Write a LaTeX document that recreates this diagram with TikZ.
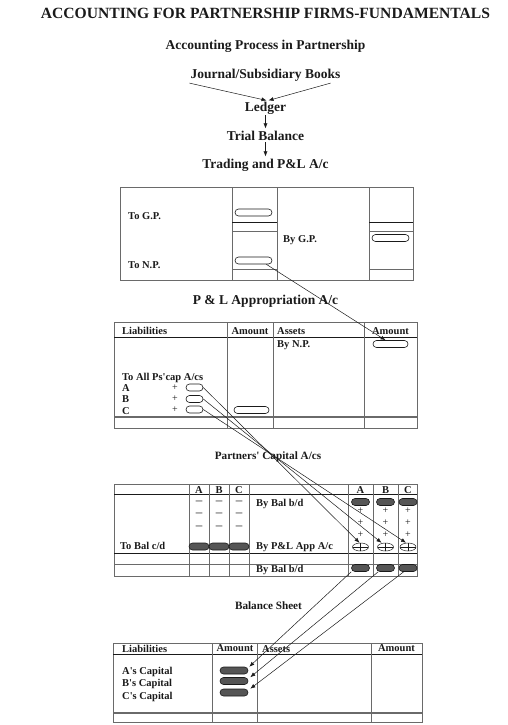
\documentclass[tikz,border=0pt]{standalone}
\usepackage{fontspec}
\setmainfont{Liberation Serif}
\usepackage{tikz}
\usetikzlibrary{arrows.meta,positioning,shapes,calc}
\definecolor{ink}{HTML}{1A1A1A}
\definecolor{rulegray}{HTML}{6A6A6A}
\definecolor{pilldark}{HTML}{555555}
\tikzset{
  headtext/.style={font=\fontsize{13.5}{15}\selectfont\bfseries,anchor=base,
                   inner sep=0pt,text=ink},
  subhead/.style={font=\fontsize{11.2}{13}\selectfont\bfseries,anchor=base,
                  inner sep=0pt,text=ink},
  celltext/.style={font=\fontsize{10.5}{12}\selectfont\bfseries,anchor=base west,
                   inner sep=0pt,text=ink},
  colhead/.style={font=\fontsize{10.5}{12}\selectfont\bfseries,anchor=base,
                  inner sep=0pt,text=ink},
  signmark/.style={font=\fontsize{10}{12}\selectfont,inner sep=0pt,text=ink},
  rule/.style={draw=rulegray,line width=1pt},
  thinrule/.style={draw=ink,line width=0.5pt},
  pill/.style={draw=ink,fill=white,line width=0.6pt,rounded corners=3.5pt,
               minimum height=7pt,inner sep=0pt},
  darkpill/.style={pill,fill=pilldark},
  oplus/.style={draw=ink,ellipse,minimum width=16pt,minimum height=8pt,
                inner sep=0pt,line width=0.5pt,
                path picture={\draw[ink,line width=0.5pt]
                  (path picture bounding box.north) -- (path picture bounding box.south)
                  (path picture bounding box.west) -- (path picture bounding box.east);}},
  flowarr/.style={-{Latex[length=5pt,width=4pt]},line width=0.5pt,draw=ink}
}

\begin{document}
\begin{tikzpicture}[x=1pt,y=-1pt]
  \path[use as bounding box] (0,0) rectangle (507,725);

  \node[font=\fontsize{15.6}{17}\selectfont\bfseries,anchor=base,inner sep=0pt,text=ink]
    (title) at (265.5,19) {ACCOUNTING FOR PARTNERSHIP FIRMS-FUNDAMENTALS};
  \node[headtext] (process) at (265.5,49) {Accounting Process in Partnership};
  \node[headtext,inner sep=2pt] (journal) at (265.5,78) {Journal/Subsidiary Books};
  \node[headtext,inner sep=1pt] (ledger) at (265.5,111) {Ledger};
  \node[headtext,inner sep=2pt] (trial) at (265.5,140) {Trial Balance};
  \node[headtext,inner sep=2pt] (trading) at (265.5,168) {Trading and P\&L A/c};
  \draw[flowarr] ([xshift=1pt]journal.south west) -- ([xshift=1pt]ledger.north);
  \draw[flowarr] ([xshift=-12pt]journal.south east) -- ([xshift=3pt]ledger.north);
  \draw[flowarr] (ledger.south) -- (trial.north);
  \draw[flowarr] (trial.south) -- (trading.north);

  % trading and P&L account
  \draw[rule] (120,187) rectangle (413,280);
  \foreach \xx in {232,277,369} \draw[rule] (\xx,187) -- (\xx,280);
  \foreach \xa/\xb in {232/277,369/413} {
    \draw[thinrule] (\xa,222) -- (\xb,222);
    \draw[rule] (\xa,231) -- (\xb,231);
    \draw[rule] (\xa,269) -- (\xb,269);
  }
  \node[celltext] (togp) at (128,219) {To G.P.};
  \node[celltext] (tonp) at (128,268) {To N.P.};
  \node[celltext] (bygp) at (283,242) {By G.P.};
  \node[pill,minimum width=37pt] (gp) at (253.5,212.5) {};
  \node[pill,minimum width=37pt] (np) at (253.5,260.5) {};
  \node[pill,minimum width=37pt] (gpamt) at (390.5,238) {};

  % P & L appropriation account
  \node[headtext] (apphead) at (265.5,304) {P \& L Appropriation A/c};
  \draw[rule] (114,322) rectangle (417,428);
  \draw[thinrule] (114,337) -- (417,337);
  \draw[rule,line width=1.6pt] (114,417) -- (417,417);
  \foreach \xx in {227,273,364} \draw[rule] (\xx,322) -- (\xx,428);
  \node[celltext] (liab1) at (122,334) {Liabilities};
  \node[colhead] (amt1) at (250,334) {Amount};
  \node[celltext] (ass1) at (277,334) {Assets};
  \node[colhead] (amt2) at (390.5,334) {Amount};
  \node[celltext] (bynp) at (277,347) {By N.P.};
  \node[celltext] (toall) at (122,380) {To All Ps\textquotesingle cap A/cs};
  \foreach \p/\yb/\yc in {A/391/387.5,B/402/399,C/414/409.5} {
    \node[celltext] (lbl\p) at (122,\yb) {\p};
    \node[signmark] (plus\p) at (175,\yc) {+};
    \node[pill,minimum width=17pt] (ap\p) at (194.5,\yc) {};
  }
  \node[pill,minimum width=35pt] (aptot) at (251.5,410) {};
  \node[pill,minimum width=35pt] (npamt) at (390.5,344) {};
  \draw[flowarr] ([xshift=-6pt]np.south east) -- ([xshift=-5pt]npamt.north);

  % partners' capital accounts
  \node[subhead] (caphead) at (268,459) {Partners\textquotesingle{} Capital A/cs};
  \draw[rule] (114,484) rectangle (417,576);
  \draw[thinrule] (114,494) -- (417,494);
  \draw[thinrule] (114,553) -- (417,553);
  \draw[rule,line width=1.6pt] (114,564.5) -- (417,564.5);
  \foreach \xx in {189,209,229,249,348,373,398} \draw[rule] (\xx,484) -- (\xx,576);
  \foreach \p/\xl/\xr in {A/199/360.5,B/219/385.5,C/239/408} {
    \node[colhead] (hl\p) at (\xl,493) {\p};
    \node[colhead] (hr\p) at (\xr,493) {\p};
    \foreach \yy [count=\k] in {502.5,514.5,527.5}
      \node[signmark,font=\fontsize{13}{14}\selectfont] (mn\p\k) at (\xl,\yy) {\textendash};
    \foreach \yy [count=\k] in {511,523,535}
      \node[signmark] (pl\p\k) at (\xr,\yy) {+};
    \node[darkpill,minimum width=20pt] (cd\p) at (\xl,546.5) {};
    \node[darkpill,minimum width=18pt] (bd\p) at (\xr,502) {};
    \node[oplus] (op\p) at (\xr,547) {};
    \node[darkpill,minimum width=18pt] (bal\p) at (\xr,568) {};
  }
  \node[celltext] (bybal1) at (256,506) {By Bal b/d};
  \node[celltext] (tobal) at (120,549) {To Bal c/d};
  \node[celltext] (bypl) at (256,549) {By P\&L App A/c};
  \node[celltext] (bybal2) at (256,572) {By Bal b/d};
  \draw[flowarr] (apA.east) -- ([xshift=-1pt]opA.north);
  \draw[flowarr] (apB.east) -- ([xshift=-4pt]opB.north);
  \draw[flowarr] (apC.east) -- ([xshift=-2pt]opC.north);

  % balance sheet
  \node[subhead] (bshead) at (268.5,609) {Balance Sheet};
  \draw[rule] (113,643) rectangle (422,722);
  \draw[thinrule] (113,654) -- (422,654);
  \draw[rule,line width=1.6pt] (113,713) -- (422,713);
  \foreach \xx in {212,257,371} \draw[rule] (\xx,643) -- (\xx,722);
  \node[celltext] (liab2) at (122,652) {Liabilities};
  \node[colhead] (amt3) at (235,651) {Amount};
  \node[celltext] (ass2) at (262,652) {Assets};
  \node[colhead] (amt4) at (396.5,651) {Amount};
  \foreach \p/\yb/\yc in {A/674/670.5,B/686/681,C/699/692.5} {
    \node[celltext] (cap\p) at (122,\yb) {\p\textquotesingle s Capital};
    \node[darkpill,minimum width=28pt] (bs\p) at (234,\yc) {};
  }
  \draw[flowarr] (balA.south west) -- ([xshift=1pt]bsA.north east);
  \draw[flowarr] ([xshift=2pt]balB.south west) -- ([xshift=2pt]bsB.north east);
  \draw[flowarr] ([xshift=5pt]balC.south west) -- ([xshift=2pt]bsC.north east);
\end{tikzpicture}
\end{document}
